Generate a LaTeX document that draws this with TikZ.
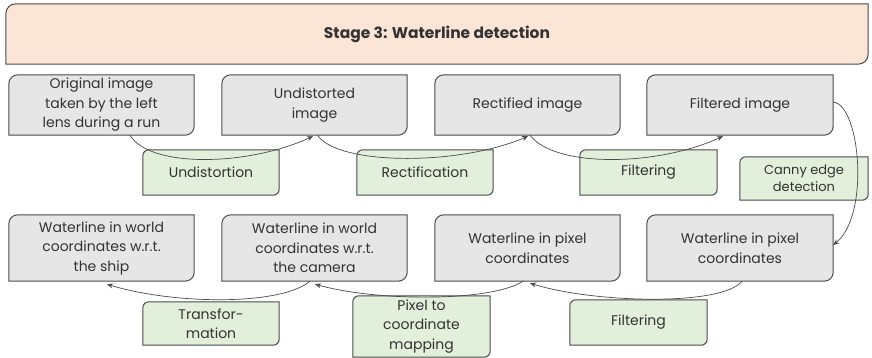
\documentclass[tikz,border=0pt]{standalone}
\usepackage{fontspec}
\setmainfont{Poppins}
\usetikzlibrary{arrows.meta}
\definecolor{peach}{HTML}{FBE5D6}
\definecolor{boxgray}{HTML}{E7E6E6}
\definecolor{boxgreen}{HTML}{E2EFDA}
\definecolor{edge}{HTML}{4A4A4A}
\definecolor{txt}{HTML}{333333}
\pgfdeclarelayer{background}
\pgfsetlayers{background,main}
\tikzset{
  lbl/.style={inner sep=0pt, align=center, text=txt,
    font=\fontsize{14}{19.5}\selectfont},
  conn/.style={draw=edge, line width=0.7pt, -{Stealth[length=6pt,width=5pt]}},
}
\newcommand\diagshape[3]{% name, fill, radius
  \draw[draw=edge, line width=1pt, fill=#2]
    (#1.south west) -- ([yshift=-#3]#1.north west)
    arc[start angle=180,end angle=90,radius=#3]
    -- (#1.north east) -- ([yshift=#3]#1.south east)
    arc[start angle=0,end angle=-90,radius=#3] -- cycle;}
\begin{document}
\begin{tikzpicture}[x=1pt,y=-1pt]
\useasboundingbox (0,0) rectangle (872,358);
% title
\node[lbl, minimum width=862pt, minimum height=60pt, font=\fontsize{15.5}{18}\selectfont\bfseries] (title) at (437,34) {Stage 3: Waterline detection};
% row 1
\node[lbl, minimum width=185pt, minimum height=60pt] (g1) at (101.5,105) {Original image\\taken by the left\\lens during a run};
\node[lbl, minimum width=185pt, minimum height=60pt] (g2) at (314.5,105) {Undistorted\\image};
\node[lbl, minimum width=185pt, minimum height=60pt] (g3) at (527.5,105) {Rectified image};
\node[lbl, minimum width=186pt, minimum height=60pt] (g4) at (740,105) {Filtered image};
% row 2
\node[lbl, minimum width=185pt, minimum height=66pt] (g5) at (101.5,248) {Waterline in world\\coordinates w.r.t.\\the ship};
\node[lbl, minimum width=185pt, minimum height=66pt] (g6) at (314.5,248) {Waterline in world\\coordinates w.r.t.\\the camera};
\node[lbl, minimum width=185pt, minimum height=66pt] (g7) at (527.5,248) {Waterline in pixel\\coordinates};
\node[lbl, minimum width=186pt, minimum height=66pt] (g8) at (740,248) {Waterline in pixel\\coordinates};
% green
\node[lbl, minimum width=136pt, minimum height=45pt] (e1) at (211,172.5) {Undistortion};
\node[lbl, minimum width=136pt, minimum height=45pt] (e2) at (425,172.5) {Rectification};
\node[lbl, minimum width=137pt, minimum height=45pt] (e3) at (648.5,172.5) {Filtering};
\node[lbl, minimum width=128pt, minimum height=43pt, font=\fontsize{13}{17}\selectfont] (e4) at (804,178.5) {Canny edge\\detection};
\node[lbl, minimum width=136pt, minimum height=43pt] (f1) at (211,323.5) {Transfor-\\mation};
\node[lbl, minimum width=137pt, minimum height=61pt] (f2) at (421.5,326.5) {Pixel to\\coordinate\\mapping};
\node[lbl, minimum width=137pt, minimum height=45pt] (f3) at (638.5,322.5) {Filtering};
\begin{pgfonlayer}{background}
  \diagshape{title}{peach}{10pt}
  \foreach \n in {g1,g2,g3,g4,g5,g6,g7,g8} {\diagshape{\n}{boxgray}{9pt}}
  \foreach \n in {e1,e2,e3,e4,f1,f2,f3} {\diagshape{\n}{boxgreen}{6pt}}
\end{pgfonlayer}
% connectors row 1
\draw[conn] ([xshift=28.5pt]g1.south) .. controls +(20,33) and +(-65,30) .. ([xshift=-1.5pt,yshift=-1pt]g2.south);
\draw[conn] ([xshift=3pt]g2.south) .. controls +(20,30) and +(-70,30) .. ([xshift=0.5pt,yshift=-1pt]g3.south);
\draw[conn] ([xshift=2.5pt]g3.south) .. controls +(25,33) and +(-65,30) .. ([xshift=-17pt,yshift=-1pt]g4.south);
% canny
\draw[conn] ([yshift=3pt]g4.east) .. controls +(27,3) and +(37,-30) .. ([yshift=3pt]g8.east);
% connectors row 2
\draw[conn] ([xshift=2pt]g8.south) .. controls +(-20,25) and +(65,20) .. ([xshift=2.5pt,yshift=-2pt]g7.south);
\draw[conn] ([xshift=-4.5pt]g7.south) .. controls +(-30,20) and +(65,18) .. ([xshift=0.5pt,yshift=-3pt]g6.south);
\draw[conn] ([xshift=-4.5pt]g6.south) .. controls +(-30,25) and +(65,20) .. ([xshift=5.5pt,yshift=-3pt]g5.south);
\end{tikzpicture}
\end{document}
